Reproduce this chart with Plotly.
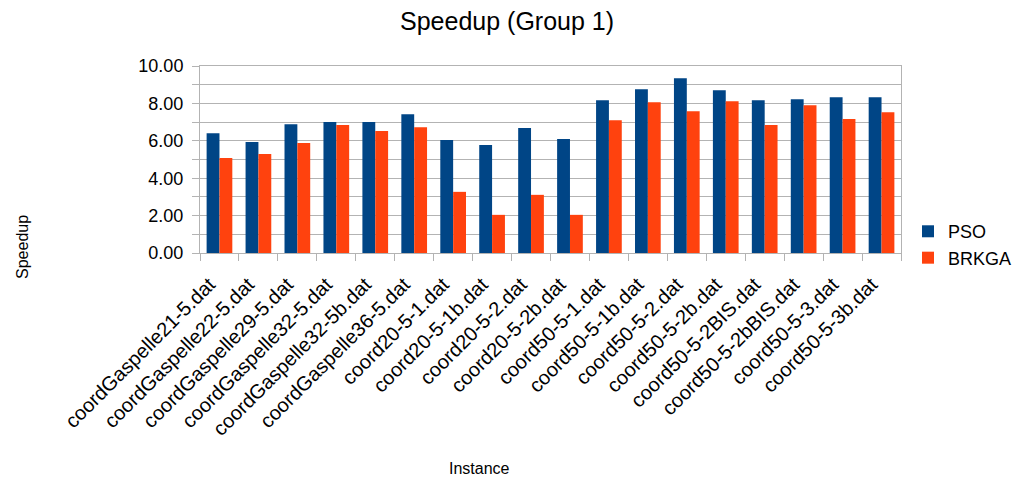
import plotly.graph_objects as go

categories = ["coordGaspelle21-5.dat", "coordGaspelle22-5.dat", "coordGaspelle29-5.dat",
              "coordGaspelle32-5.dat", "coordGaspelle32-5b.dat", "coordGaspelle36-5.dat",
              "coord20-5-1.dat", "coord20-5-1b.dat", "coord20-5-2.dat", "coord20-5-2b.dat",
              "coord50-5-1.dat", "coord50-5-1b.dat", "coord50-5-2.dat", "coord50-5-2b.dat",
              "coord50-5-2BIS.dat", "coord50-5-2bBIS.dat", "coord50-5-3.dat", "coord50-5-3b.dat"]
pso = [6.41, 5.93, 6.89, 7.00, 7.00, 7.42, 6.04, 5.77, 6.68, 6.09,
       8.17, 8.76, 9.34, 8.70, 8.17, 8.22, 8.33, 8.33]
brkga = [5.08, 5.29, 5.88, 6.84, 6.52, 6.73, 3.27, 2.04, 3.11, 2.04,
         7.10, 8.06, 7.58, 8.12, 6.84, 7.90, 7.16, 7.53]

FONT = "Liberation Sans, Arial, sans-serif"

fig = go.Figure()
fig.add_trace(go.Bar(name="PSO", x=categories, y=pso, marker_color="#004586", marker_line_width=0))
fig.add_trace(go.Bar(name="BRKGA", x=categories, y=brkga, marker_color="#ff420e", marker_line_width=0))

fig.update_layout(
    width=1030, height=479,
    margin=dict(l=192, r=137, t=58, b=234, autoexpand=False),
    paper_bgcolor="white", plot_bgcolor="white",
    font=dict(family=FONT, size=18, color="black"),
    barmode="group", bargap=0.34, bargroupgap=0,
    title=dict(text="Speedup (Group 1)", x=0.4845, xanchor="center", y=0.99, yanchor="top",
               font=dict(size=25)),
    showlegend=True,
    legend=dict(x=1.01, xanchor="left", y=0.045, yanchor="middle", font=dict(size=18),
                tracegroupgap=0, itemwidth=30, bgcolor="rgba(0,0,0,0)"),
)
fig.update_xaxes(tickangle=-45, showline=True, linecolor="#b3b3b3", linewidth=1, mirror=True,
                 ticks="outside", ticklen=7, tickcolor="#b3b3b3", tickson="boundaries",
                 showgrid=False, tickfont=dict(size=20), automargin=False,
                 ticklabelshift=-10, ticklabelstandoff=11)
fig.update_yaxes(range=[0, 10], dtick=2, tickformat=".2f", showline=True, linecolor="#b3b3b3",
                 linewidth=1, mirror=True, ticks="outside", ticklen=7, tickcolor="#b3b3b3",
                 showgrid=True, gridcolor="#b3b3b3", gridwidth=1, zeroline=False,
                 minor=dict(dtick=1, showgrid=True, gridcolor="#b3b3b3", ticks="outside",
                            ticklen=7, tickcolor="#b3b3b3"),
                 tickfont=dict(size=18), automargin=False, ticklabelstandoff=5)

fig.add_annotation(text="Speedup", xref="paper", yref="paper", x=-0.254, y=0.032, xanchor="center",
                   yanchor="middle", showarrow=False, textangle=-90, font=dict(size=16))
fig.add_annotation(text="Instance", xref="paper", yref="paper", x=0.399, y=-1.15, xanchor="center",
                   yanchor="middle", showarrow=False, font=dict(size=16))

fig.write_html("out.html")
